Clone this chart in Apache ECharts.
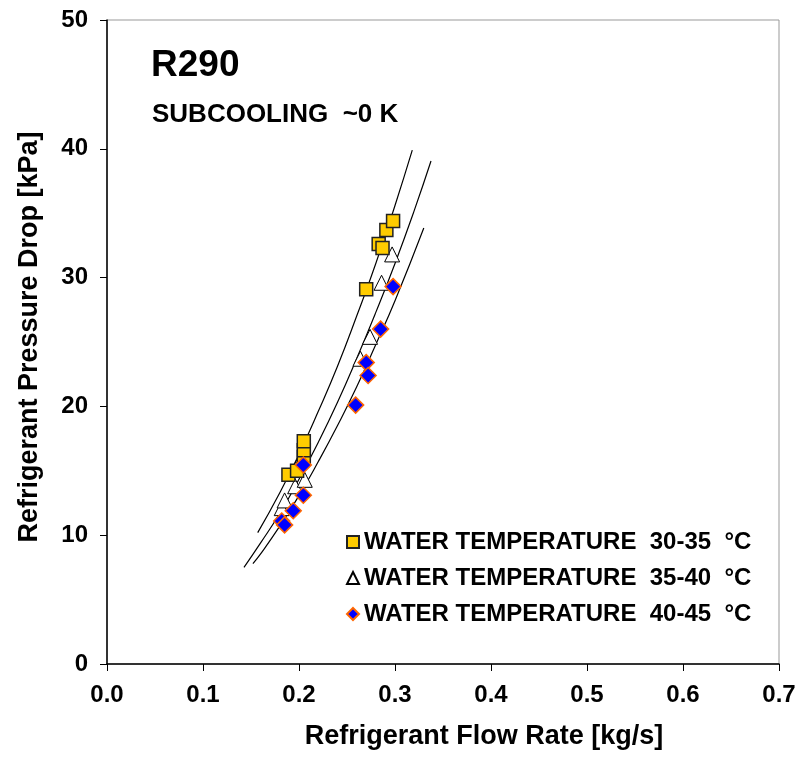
<!DOCTYPE html>
<html>
<head>
    <meta charset="utf-8">
    <script src="https://cdn.jsdelivr.net/npm/echarts@6/dist/echarts.min.js"></script>
</head>
<body style="margin:0">
    <div id="main" style="width: 800px;height:758px;"></div>
    <script type="text/javascript">
        // measured points [flow rate kg/s, pressure drop kPa]
        var water3035 = [[0.189, 14.7], [0.198, 15.0], [0.205, 16.1], [0.205, 16.6], [0.205, 17.3],
            [0.270, 29.1], [0.283, 32.6], [0.287, 32.3], [0.291, 33.7], [0.298, 34.4]];
        var water3540 = [[0.182, 12.1], [0.185, 12.7], [0.196, 13.8], [0.206, 14.3], [0.204, 16.2],
            [0.264, 23.7], [0.274, 25.4], [0.286, 29.6], [0.297, 31.8]];
        var water4045 = [[0.182, 11.1], [0.185, 10.8], [0.194, 11.9], [0.2045, 13.1], [0.2045, 15.45],
            [0.259, 20.1], [0.270, 23.4], [0.272, 22.4], [0.285, 26.0], [0.298, 29.3]];

        // trend lines
        var trend3035 = [[0.157, 10.2], [0.18, 13.3], [0.20, 16.3], [0.22, 19.6], [0.24, 23.1],
            [0.26, 27.0], [0.28, 31.1], [0.30, 35.6], [0.318, 39.9]];
        var trend3540 = [[0.1427, 7.5], [0.16, 9.4], [0.18, 11.7], [0.20, 14.35], [0.22, 17.2], [0.24, 20.3],
            [0.26, 23.7], [0.28, 27.3], [0.30, 31.1], [0.32, 35.2], [0.3375, 39.05]];
        var trend4045 = [[0.152, 7.8], [0.16, 8.55], [0.18, 10.7], [0.20, 13.07], [0.22, 15.7], [0.24, 18.5],
            [0.26, 21.5], [0.28, 24.8], [0.30, 28.2], [0.33, 33.85]];

        var xTicks = ['0.0', '0.1', '0.2', '0.3', '0.4', '0.5', '0.6', '0.7'];
        var legendNames = ['WATER TEMPERATURE  30-35  °C', 'WATER TEMPERATURE  35-40  °C', 'WATER TEMPERATURE  40-45  °C'];

        var myChart = echarts.init(document.getElementById('main'));
        var sans = '"Liberation Sans", Arial, sans-serif';

        function trendLine(data) {
            return {
                type: 'line', data: data, smooth: true, showSymbol: false, silent: true,
                lineStyle: { color: '#000', width: 1.2 }, z: 1
            };
        }

        option = {
            animation: false,
            grid: { left: 107, right: 21, top: 20, bottom: 94, show: true, borderColor: '#999', borderWidth: 1 },
            xAxis: {
                type: 'value', min: 0, max: 0.7, interval: 0.1,
                name: 'Refrigerant Flow Rate [kg/s]', nameLocation: 'middle', nameGap: 59,
                nameTextStyle: {
                    fontFamily: sans, fontWeight: 'bold', fontSize: 27, color: '#000',
                    verticalAlign: 'top', padding: [0, 0, 0, 82]
                },
                axisLine: { lineStyle: { color: '#000', width: 1.5 } },
                axisTick: { show: true, length: 7, lineStyle: { color: '#000' } },
                axisLabel: {
                    margin: 19, fontFamily: sans, fontWeight: 'bold', fontSize: 24, color: '#000',
                    formatter: function (v) { return xTicks[Math.round(v * 10)]; }
                },
                splitLine: { show: false }
            },
            yAxis: {
                type: 'value', min: 0, max: 50, interval: 10,
                name: 'Refrigerant Pressure Drop [kPa]', nameLocation: 'middle', nameGap: 64,
                nameTextStyle: { fontFamily: sans, fontWeight: 'bold', fontSize: 27, color: '#000', padding: [0, 0, 0, 10] },
                axisLine: { show: true, lineStyle: { color: '#000', width: 1.5 } },
                axisTick: { show: true, length: 7, lineStyle: { color: '#000' } },
                axisLabel: { margin: 19, fontFamily: sans, fontWeight: 'bold', fontSize: 24, color: '#000' },
                splitLine: { show: false }
            },
            legend: {
                orient: 'vertical', left: 341, top: 525, itemGap: 12,
                itemWidth: 12, itemHeight: 12,
                textStyle: { fontFamily: sans, fontWeight: 'bold', fontSize: 24, color: '#000' },
                data: legendNames
            },
            graphic: [
                { type: 'text', left: 151, top: 47, style: { text: 'R290', font: 'bold 37px ' + sans, fill: '#000' } },
                { type: 'text', left: 152, top: 102, style: { text: 'SUBCOOLING  ~0 K', font: 'bold 26px ' + sans, fill: '#000' } }
            ],
            series: [
                trendLine(trend3035),
                trendLine(trend3540),
                trendLine(trend4045),
                {
                    name: legendNames[0], type: 'scatter', data: water3035, symbol: 'rect', symbolSize: 13, z: 3,
                    itemStyle: { color: '#FFCC00', borderColor: '#222', borderWidth: 1.5, opacity: 1 }
                },
                {
                    name: legendNames[1], type: 'scatter', data: water3540, symbol: 'triangle', symbolSize: 15, z: 2,
                    itemStyle: { color: '#fff', borderColor: '#000', borderWidth: 1, opacity: 1 }
                },
                {
                    name: legendNames[2], type: 'scatter', data: water4045, symbol: 'diamond', symbolSize: 16, z: 4,
                    itemStyle: { color: '#0000FF', borderColor: '#FF6600', borderWidth: 1.5, opacity: 1 }
                }
            ]
        };

        myChart.setOption(option);
    </script>
</body>
</html>
